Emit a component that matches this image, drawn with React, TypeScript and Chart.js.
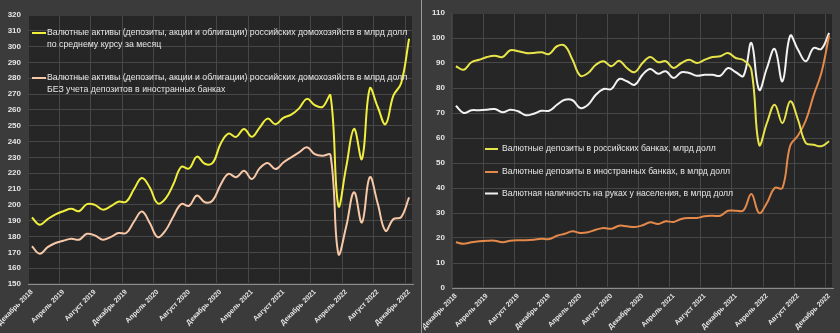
import React, { useEffect, useRef } from 'react';
import { Chart, registerables } from 'chart.js';

Chart.register(...registerables);

// ---------- data ----------
const CATEGORIES: string[] = [
  'Декабрь 2018', 'Январь 2019', 'Февраль 2019', 'Март 2019', 'Апрель 2019', 'Май 2019', 'Июнь 2019',
  'Июль 2019', 'Август 2019', 'Сентябрь 2019', 'Октябрь 2019', 'Ноябрь 2019', 'Декабрь 2019',
  'Январь 2020', 'Февраль 2020', 'Март 2020', 'Апрель 2020', 'Май 2020', 'Июнь 2020', 'Июль 2020',
  'Август 2020', 'Сентябрь 2020', 'Октябрь 2020', 'Ноябрь 2020', 'Декабрь 2020',
  'Январь 2021', 'Февраль 2021', 'Март 2021', 'Апрель 2021', 'Май 2021', 'Июнь 2021', 'Июль 2021',
  'Август 2021', 'Сентябрь 2021', 'Октябрь 2021', 'Ноябрь 2021', 'Декабрь 2021',
  'Январь 2022', 'Февраль 2022', 'Март 2022', 'Апрель 2022', 'Май 2022', 'Июнь 2022', 'Июль 2022',
  'Август 2022', 'Сентябрь 2022', 'Октябрь 2022', 'Ноябрь 2022', 'Декабрь 2022',
];

const LEFT_TOTAL: number[] = [
  192, 187.5, 191, 194, 196, 197.5, 196, 200.5, 200, 197, 199, 202, 202,
  210, 217, 211, 201, 204, 213, 224, 223, 230.5, 226, 226.5, 238.5,
  245, 243, 248, 243, 249, 254.5, 251, 255, 257, 261, 267, 263,
  262, 269, 199.5, 224, 248, 229, 273.5, 262, 251, 269, 277, 305,
];

const LEFT_NO_FOREIGN: number[] = [
  173.8, 169.1, 173.3, 175.9, 177.3, 178.6, 178, 181.7, 180.7, 178, 179.6, 182.2, 182.2,
  189.5, 195.8, 188.5, 179.6, 183.8, 192.7, 200.5, 199.4, 205.9, 201.7, 202.8, 212.6,
  219.6, 217.5, 221.5, 216.4, 223.2, 226.5, 222.6, 226.8, 230, 233.2, 236.4, 232.1,
  231, 231.5, 169.1, 186.4, 208, 188.9, 217.5, 201, 183.6, 191, 192.3, 204.7,
];

const RIGHT_RU_DEPOSITS: number[] = [
  88.7, 87.3, 90.3, 91.3, 92.4, 92.9, 92.4, 95.1, 94.7, 94, 94, 94.3, 93.6,
  96.7, 96.9, 91.3, 84.9, 86, 89.3, 90.7, 88.7, 90.9, 88, 86.3, 90,
  92.4, 90.3, 90.7, 88, 90, 91.3, 90, 91.3, 92.4, 92.7, 94, 92,
  91.1, 87.3, 57.3, 66, 73.3, 66, 74.7, 67.3, 58, 57.3, 56.7, 58.7,
];

const RIGHT_FOREIGN_DEPOSITS: number[] = [
  18.3, 17.7, 18.3, 18.7, 18.9, 18.9, 18.3, 18.9, 19.1, 19.1, 19.3, 19.7, 19.6,
  20.9, 21.7, 22.7, 22, 22.3, 23.3, 24, 23.7, 24.9, 24.7, 24.4, 25.1,
  26.3, 25.6, 26.7, 26.4, 27.6, 28, 28, 28.7, 28.9, 28.9, 30.9, 30.9,
  31.1, 37.6, 30, 34, 40, 40, 57, 61, 67, 77, 86, 101,
];

const RIGHT_CASH: number[] = [
  72.9, 70, 71.1, 71.1, 71.3, 71.6, 70.3, 71.3, 70.7, 69.1, 69.7, 70.9, 70.9,
  73.3, 75.3, 75.1, 72, 73.3, 77.3, 79.6, 79.6, 83.6, 82.7, 81.3, 85.3,
  87.6, 85.7, 86.7, 84, 86.3, 86, 84.9, 85.3, 85.3, 84.9, 88, 86.3,
  84.9, 98, 79.3, 88, 95.6, 82.7, 100.9, 95.3, 90.7, 96, 95.6, 102,
];

const LEFT_LEGEND_1: string[] = [
  'Валютные активы (депозиты, акции и облигации) российских домохозяйств в млрд долл',
  'по среднему курсу за месяц',
];
const LEFT_LEGEND_2: string[] = [
  'Валютные активы (депозиты, акции и облигации) российских домохозяйств в млрд долл',
  'БЕЗ учета депозитов в иностранных банках',
];
const RIGHT_LEGEND_1: string[] = ['Валютные депозиты в российских банках, млрд долл'];
const RIGHT_LEGEND_2: string[] = ['Валютные депозиты в иностранных банках, в млрд долл'];
const RIGHT_LEGEND_3: string[] = ['Валютная наличность на руках у населения, в млрд долл'];

// ---------- styling ----------
const FONT = "'Liberation Sans', Arial, sans-serif";
const OUTER_BG = '#3b3b3b';
const PLOT_BG = '#262626';
const GRID = '#474747';
const TEXT = '#e6e6e6';

const panelDecor = {
  id: 'panelDecor',
  beforeDraw(chart: any, _args: any, opts: any) {
    const { ctx, chartArea: a } = chart;
    ctx.save();
    ctx.fillStyle = opts.plotBg;
    ctx.fillRect(a.left, a.top, a.right - a.left, a.bottom - a.top);
    ctx.restore();
  },
  beforeDatasetsDraw(chart: any, _args: any, opts: any) {
    const { ctx, chartArea: a } = chart;
    ctx.save();
    ctx.strokeStyle = opts.border;
    ctx.lineWidth = 1;
    ctx.strokeRect(a.left + 0.5, a.top + 0.5, a.right - a.left - 1, a.bottom - a.top - 1);
    ctx.restore();
  },
  afterDraw(chart: any, _args: any, opts: any) {
    const { ctx, chartArea: a } = chart;
    ctx.save();
    ctx.font = opts.font;
    ctx.textBaseline = 'middle';
    ctx.textAlign = 'left';
    for (const item of opts.items) {
      const ds = chart.data.datasets[item.dataset];
      const x = a.left + item.dx;
      const y = a.top + item.dy;
      ctx.strokeStyle = ds.borderColor;
      ctx.lineWidth = 2;
      ctx.beginPath();
      ctx.moveTo(x, y);
      ctx.lineTo(x + opts.sample, y);
      ctx.stroke();
      ctx.fillStyle = opts.color;
      item.lines.forEach((ln: string, k: number) => {
        ctx.fillText(ln, x + opts.sample + opts.gap, y + k * opts.lineHeight);
      });
    }
    ctx.restore();
  },
};

type Series = { label: string[]; data: number[]; color: string };

function makeConfig(p: {
  series: Series[];
  yMin: number;
  yMax: number;
  yWidth: number;
  xHeight: number;
  padTop: number;
  padRight: number;
  legend: any;
}) {
  return {
    type: 'line',
    data: {
      labels: CATEGORIES,
      datasets: p.series.map((s) => ({
        label: s.label.join(' '),
        data: s.data,
        borderColor: s.color,
        backgroundColor: s.color,
        borderWidth: 2,
        pointRadius: 0,
        tension: 0.4,
        fill: false,
      })),
    },
    options: {
      responsive: false,
      animation: false,
      devicePixelRatio: 1,
      layout: { padding: { top: p.padTop, right: p.padRight, left: 0, bottom: 0 } },
      plugins: {
        legend: { display: false },
        tooltip: { enabled: false },
        panelDecor: {
          plotBg: PLOT_BG,
          border: '#3c3c3c',
          color: TEXT,
          ...p.legend,
        },
      },
      scales: {
        x: {
          offset: true,
          grid: {
            offset: true,
            drawTicks: false,
            color: (ctx: any) => (ctx.index !== undefined && ctx.index % 4 === 0 ? GRID : 'rgba(0,0,0,0)'),
          },
          border: { color: '#8c8c8c', width: 1 },
          ticks: {
            autoSkip: false,
            maxRotation: 45,
            minRotation: 45,
            padding: 4,
            color: TEXT,
            font: { family: FONT, size: 7, weight: 'bold' },
            callback: (_v: any, i: number) => (i % 4 === 0 ? CATEGORIES[i] : ''),
          },
          afterFit: (s: any) => {
            s.height = p.xHeight;
            s.paddingLeft = 0;
            s.paddingRight = 0;
          },
        },
        y: {
          min: p.yMin,
          max: p.yMax,
          grid: { color: GRID, drawTicks: false },
          border: { display: false },
          ticks: {
            stepSize: 10,
            padding: 7,
            color: TEXT,
            font: { family: FONT, size: 8, weight: 'bold' },
          },
          afterFit: (s: any) => {
            s.width = p.yWidth;
          },
        },
      },
    },
    plugins: [panelDecor],
  };
}

function Panel({ config, width, height }: { config: any; width: number; height: number }) {
  const ref = useRef<HTMLCanvasElement | null>(null);
  useEffect(() => {
    if (!ref.current) return;
    const chart = new Chart(ref.current, config);
    return () => chart.destroy();
  }, [config]);
  return <canvas ref={ref} width={width} height={height} style={{ display: 'block', width, height }} />;
}

const leftConfig = makeConfig({
  series: [
    { label: LEFT_LEGEND_1, data: LEFT_TOTAL, color: '#f1ef3d' },
    { label: LEFT_LEGEND_2, data: LEFT_NO_FOREIGN, color: '#f7c8a8' },
  ],
  yMin: 150,
  yMax: 320,
  yWidth: 28,
  xHeight: 49,
  padTop: 15,
  padRight: 7,
  legend: {
    font: `8.75px ${FONT}`,
    sample: 14,
    gap: 1,
    lineHeight: 12,
    items: [
      { dataset: 0, dx: 4, dy: 18, lines: LEFT_LEGEND_1 },
      { dataset: 1, dx: 4, dy: 63, lines: LEFT_LEGEND_2 },
    ],
  },
});

const rightConfig = makeConfig({
  series: [
    { label: RIGHT_LEGEND_1, data: RIGHT_RU_DEPOSITS, color: '#e7e44a' },
    { label: RIGHT_LEGEND_2, data: RIGHT_FOREIGN_DEPOSITS, color: '#e4894a' },
    { label: RIGHT_LEGEND_3, data: RIGHT_CASH, color: '#f2f2f2' },
  ],
  yMin: 0,
  yMax: 110,
  yWidth: 29,
  xHeight: 45,
  padTop: 13,
  padRight: 7,
  legend: {
    font: `8.65px ${FONT}`,
    sample: 13,
    gap: 4,
    lineHeight: 12,
    items: [
      { dataset: 0, dx: 33, dy: 136, lines: RIGHT_LEGEND_1 },
      { dataset: 1, dx: 33, dy: 159, lines: RIGHT_LEGEND_2 },
      { dataset: 2, dx: 33, dy: 180.5, lines: RIGHT_LEGEND_3 },
    ],
  },
});

export default function App() {
  return (
    <div
      style={{
        position: 'fixed',
        left: 0,
        top: 0,
        width: 840,
        height: 333,
        background: OUTER_BG,
        overflow: 'hidden',
      }}
    >
      <div style={{ position: 'absolute', left: 0, top: 0, width: 420, height: 333 }}>
        <Panel config={leftConfig} width={420} height={333} />
      </div>
      <div style={{ position: 'absolute', left: 421, top: 0, width: 1, height: 333, background: '#9a9a9a' }} />
      <div style={{ position: 'absolute', left: 423, top: 0, width: 417, height: 333 }}>
        <Panel config={rightConfig} width={417} height={333} />
      </div>
    </div>
  );
}
